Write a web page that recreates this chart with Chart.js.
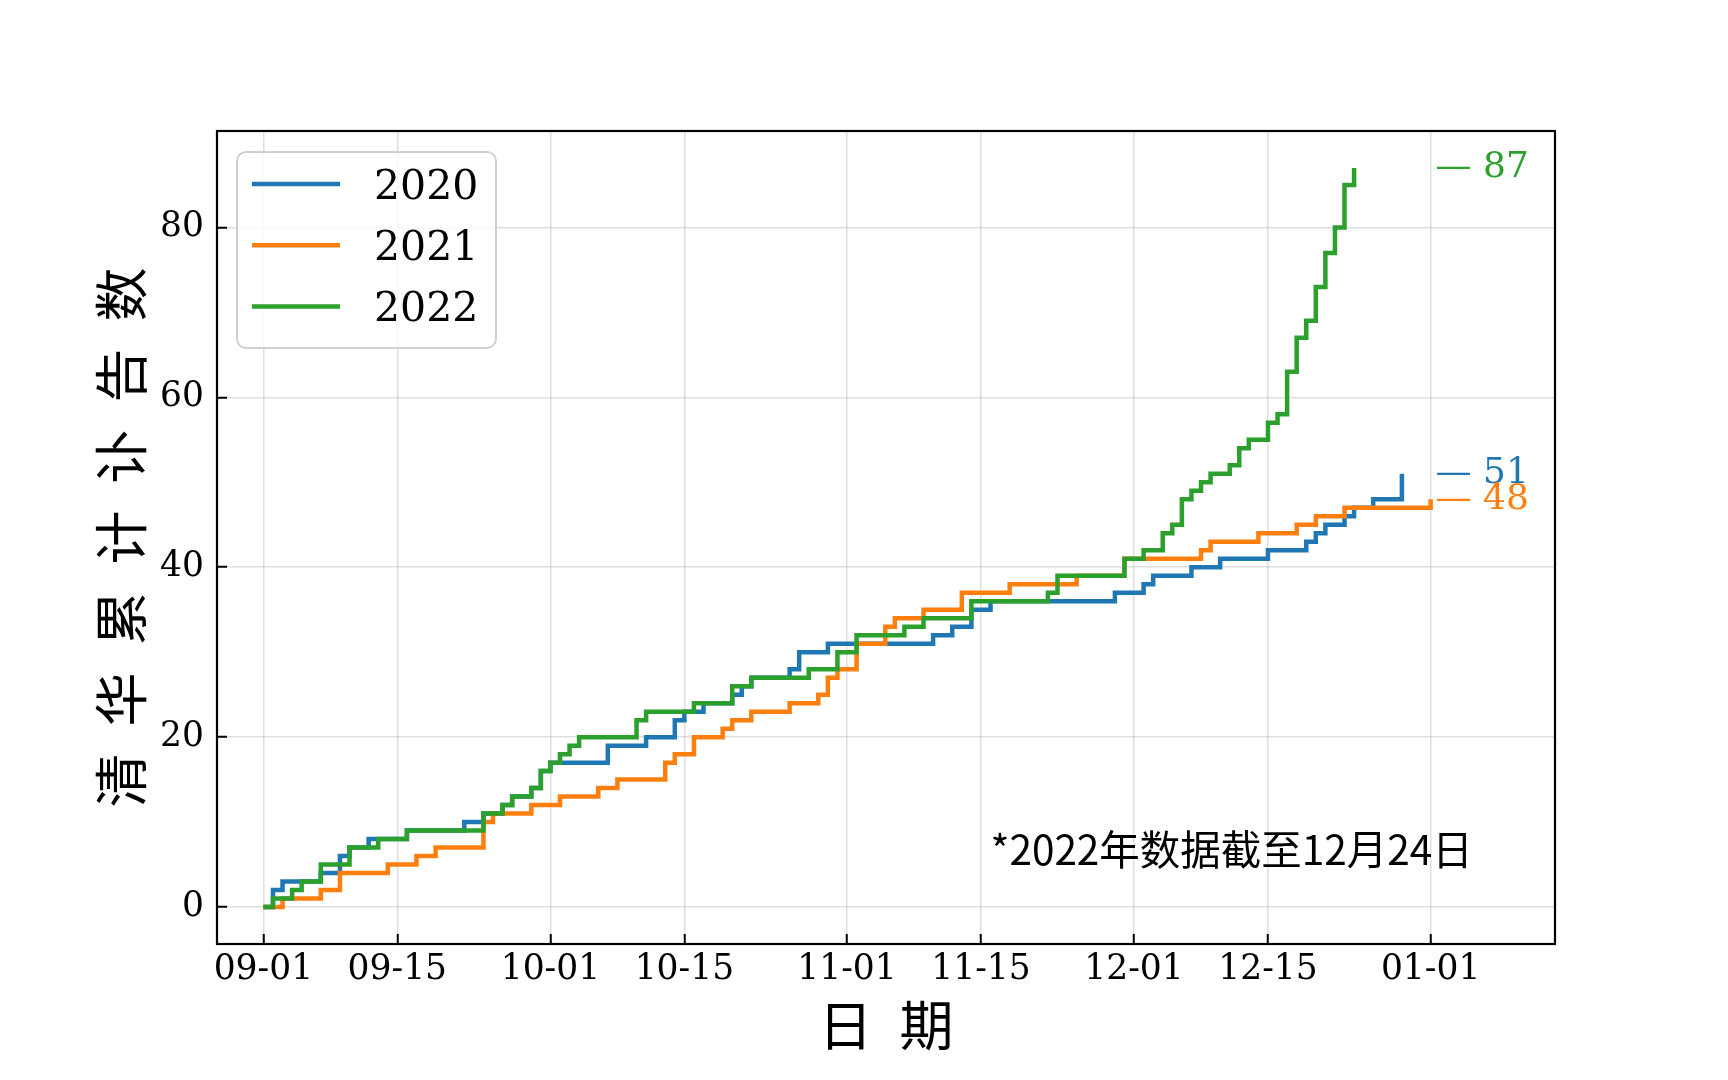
<!DOCTYPE html>
<html>
<head>
<meta charset="utf-8">
<title>清华累计讣告数</title>
<script src="https://cdn.jsdelivr.net/npm/chart.js@4"></script>
<style>
  html, body { margin: 0; padding: 0; background: #fff; }
  canvas { display: block; }
</style>
</head>
<body>
<canvas id="obitChart" width="1728" height="1080"></canvas>
<script>
// 每个日期 (MM-DD) 是累计数变化的那一天，counts 是变化后的累计值
const seriesNames = ['2020', '2021', '2022'];

const dates2020 = ['09-01', '09-02', '09-03', '09-07', '09-09', '09-10', '09-12', '09-16', '09-22', '09-24',
  '09-26', '09-27', '09-29', '09-30', '10-01', '10-07', '10-11', '10-14', '10-15', '10-17',
  '10-20', '10-21', '10-22', '10-26', '10-27', '10-30', '11-10', '11-12', '11-14', '11-16',
  '11-29', '12-02', '12-03', '12-07', '12-10', '12-15', '12-19', '12-20', '12-21', '12-23',
  '12-24', '12-26', '12-29'];
const counts2020 = [0, 2, 3, 4, 6, 7, 8, 9, 10, 11,
  12, 13, 14, 16, 17, 19, 20, 22, 23, 24,
  25, 26, 27, 28, 30, 31, 32, 33, 35, 36,
  37, 38, 39, 40, 41, 42, 43, 44, 45, 46,
  47, 48, 51];

const dates2021 = ['09-01', '09-03', '09-07', '09-09', '09-14', '09-17', '09-19', '09-24', '09-25', '09-29',
  '10-02', '10-06', '10-08', '10-13', '10-14', '10-16', '10-19', '10-20', '10-22', '10-26',
  '10-29', '10-30', '10-31', '11-02', '11-05', '11-06', '11-09', '11-13', '11-18', '11-25',
  '11-30', '12-08', '12-09', '12-14', '12-18', '12-20', '12-23', '01-01'];
const counts2021 = [0, 1, 2, 4, 5, 6, 7, 10, 11, 12,
  13, 14, 15, 17, 18, 20, 21, 22, 23, 24,
  25, 27, 28, 31, 33, 34, 35, 37, 38, 39,
  41, 42, 43, 44, 45, 46, 47, 48];

const dates2022 = ['09-01', '09-02', '09-04', '09-05', '09-07', '09-10', '09-13', '09-16', '09-24', '09-26',
  '09-27', '09-29', '09-30', '10-01', '10-02', '10-03', '10-04', '10-10', '10-11', '10-16',
  '10-20', '10-22', '10-28', '10-31', '11-02', '11-07', '11-09', '11-14', '11-22', '11-23',
  '11-30', '12-02', '12-04', '12-05', '12-06', '12-07', '12-08', '12-09', '12-11', '12-12',
  '12-13', '12-15', '12-16', '12-17', '12-18', '12-19', '12-20', '12-21', '12-22', '12-23',
  '12-24'];
const counts2022 = [0, 1, 2, 3, 5, 7, 8, 9, 11, 12,
  13, 14, 16, 17, 18, 19, 20, 22, 23, 24,
  26, 27, 28, 30, 32, 33, 34, 36, 37, 39,
  41, 42, 44, 45, 48, 49, 50, 51, 52, 54,
  55, 57, 58, 63, 67, 69, 73, 77, 80, 85,
  87];

const xTickLabels = ['09-01', '09-15', '10-01', '10-15', '11-01', '11-15', '12-01', '12-15', '01-01'];
const yTicks = [0, 20, 40, 60, 80];
const noteText = '*2022年数据截至12月24日';

const colors = ['#1f77b4', '#ff7f0e', '#2ca02c'];
const serif = '"DejaVu Serif", serif';
const cjk = '"Noto Sans CJK SC", sans-serif';

// 从 9 月 1 日起算的天数
const monthStart = { '09': 0, '10': 30, '11': 61, '12': 91, '01': 122 };
function toDay(md) {
  const [m, d] = md.split('-');
  return monthStart[m] + Number(d) - 1;
}

const allDates = [dates2020, dates2021, dates2022];
const allCounts = [counts2020, counts2021, counts2022];

const datasets = seriesNames.map((name, i) => ({
  label: name,
  data: allDates[i].map((d, j) => ({ x: toDay(d), y: allCounts[i][j] })),
  borderColor: colors[i],
  backgroundColor: colors[i],
  borderWidth: 4.5,
  stepped: 'before',
  pointRadius: 0,
  fill: false,
  borderJoinStyle: 'miter',
  order: seriesNames.length - i   // 2022 画在最上面
}));

// 边框 + 末端数值
const framePlugin = {
  id: 'frame',
  afterDatasetsDraw(chart) {
    const { ctx, chartArea: a, scales } = chart;
    ctx.save();
    ctx.font = '36px ' + serif;
    ctx.textAlign = 'left';
    ctx.textBaseline = 'middle';
    const tx = scales.x.getPixelForValue(toDay('01-01')) + 5;
    allCounts.forEach((c, i) => {
      const last = c[c.length - 1];
      ctx.fillStyle = colors[i];
      ctx.fillText('\u2014 ' + last, tx, scales.y.getPixelForValue(last));
    });
    // 注释
    ctx.fillStyle = '#000';
    ctx.font = '40.5px ' + cjk;
    ctx.textBaseline = 'alphabetic';
    ctx.fillText(noteText, scales.x.getPixelForValue(76.0), scales.y.getPixelForValue(5));

    ctx.lineWidth = 2.2;
    ctx.strokeStyle = '#000';
    ctx.strokeRect(a.left, a.top, a.right - a.left, a.bottom - a.top);
    ctx.restore();
  }
};

// matplotlib 风格的图例框
const legendPlugin = {
  id: 'legendBox',
  afterDraw(chart) {
    const { ctx, chartArea: a } = chart;
    const x = a.left + 20, y = a.top + 21, w = 259, h = 196, r = 9;
    ctx.save();
    ctx.beginPath();
    ctx.moveTo(x + r, y);
    ctx.arcTo(x + w, y, x + w, y + h, r);
    ctx.arcTo(x + w, y + h, x, y + h, r);
    ctx.arcTo(x, y + h, x, y, r);
    ctx.arcTo(x, y, x + w, y, r);
    ctx.closePath();
    ctx.fillStyle = 'rgba(255,255,255,0.8)';
    ctx.fill();
    ctx.lineWidth = 2;
    ctx.strokeStyle = '#d0d0d0';
    ctx.stroke();

    ctx.font = '41px ' + serif;
    ctx.textAlign = 'left';
    ctx.textBaseline = 'alphabetic';
    chart.data.datasets.forEach((ds, i) => {
      const ly = y + 32 + i * 61.2;
      ctx.beginPath();
      ctx.moveTo(x + 15, ly);
      ctx.lineTo(x + 103, ly);
      ctx.lineWidth = 4.5;
      ctx.strokeStyle = ds.borderColor;
      ctx.stroke();
      ctx.fillStyle = '#000';
      ctx.fillText(ds.label, x + 137, ly + 15);
    });
    ctx.restore();
  }
};

const gridStyle = {
  color: 'rgba(176,176,176,0.4)',
  lineWidth: 1.5,
  tickColor: '#000',
  tickWidth: 2,
  tickLength: -10
};

new Chart(document.getElementById('obitChart'), {
  type: 'line',
  data: { datasets },
  options: {
    responsive: false,
    animation: false,
    layout: { padding: { top: 131, right: 173, left: 0, bottom: 0 } },
    plugins: {
      legend: { display: false },
      tooltip: { enabled: false }
    },
    scales: {
      x: {
        type: 'linear',
        min: -4.85,
        max: 135,
        afterBuildTicks: (scale) => {
          scale.ticks = xTickLabels.map(l => ({ value: toDay(l) }));
        },
        afterFit: (scale) => { scale.height = 136; },
        ticks: {
          callback: (v, i) => xTickLabels[i],
          autoSkip: false,
          maxRotation: 0,
          color: '#000',
          padding: 15,
          font: { family: serif, size: 34.5 }
        },
        grid: gridStyle,
        border: { display: false },
        title: {
          display: true,
          text: '日\u2002期',
          color: '#000',
          font: { family: cjk, size: 54 },
          padding: { top: 0, bottom: 22 }
        }
      },
      y: {
        type: 'linear',
        min: -4.35,
        max: 91.35,
        afterBuildTicks: (scale) => {
          scale.ticks = yTicks.map(v => ({ value: v }));
        },
        afterFit: (scale) => { scale.width = 217; },
        ticks: {
          color: '#000',
          padding: 23,
          font: { family: serif, size: 34.5 }
        },
        grid: gridStyle,
        border: { display: false },
        title: {
          display: true,
          text: '清\u2002华\u2002累\u2002计\u2002讣\u2002告\u2002数',
          color: '#000',
          font: { family: cjk, size: 54 },
          padding: { top: 89, bottom: 0 }
        }
      }
    }
  },
  plugins: [framePlugin, legendPlugin]
});
</script>
</body>
</html>
